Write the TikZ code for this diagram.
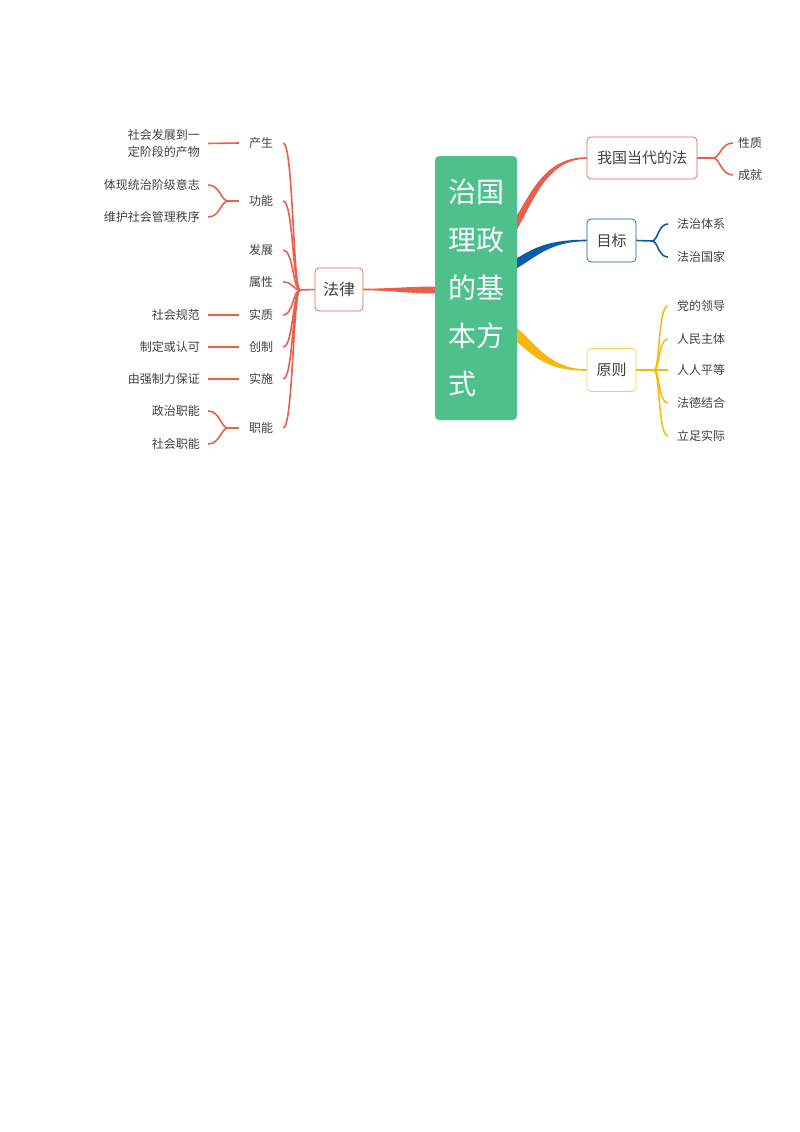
\documentclass[tikz,border=0pt]{standalone}
\usepackage{fontspec}
\setmainfont{Noto Sans CJK SC}
\usetikzlibrary{calc}
\definecolor{lawred}{HTML}{E8604C}
\definecolor{goalblue}{HTML}{0B5CA8}
\definecolor{ruleyel}{HTML}{F6B70F}
\definecolor{rootgreen}{HTML}{4EC08B}
\definecolor{txtgray}{HTML}{404040}
\newcommand\taperlink[6]{% colour, start, end, control 1, control 2, half width
  \fill[#1] ($(#2)+(0,-#6)$) .. controls ($(#4)+(0,-#6)$) and ($(#5)+(0,-0.8)$) .. ($(#3)+(0,-0.8)$)
    -- ($(#3)+(0,0.8)$) .. controls ($(#5)+(0,0.8)$) and ($(#4)+(0,#6)$) .. ($(#2)+(0,#6)$) -- cycle;}
\begin{document}
\begin{tikzpicture}[x=1pt,y=-1pt,
  txt/.style={font=\fontsize{12}{17}\selectfont, text=txtgray, inner ysep=0pt},
  childL/.style={txt, inner xsep=10pt},
  leafL/.style={txt, inner xsep=8pt, anchor=east, align=left},
  childR/.style={txt, anchor=west},
  topicbox/.style={draw=#1, rounded corners=4pt, fill=white, line width=0.7pt, inner sep=0pt,
    font=\fontsize{15}{18}\selectfont, text=txtgray, minimum height=43pt},
  root/.style={fill=rootgreen, rounded corners=4pt, minimum width=82pt, minimum height=264pt,
    text=white, font=\fontsize{28}{48}\selectfont, align=left, inner sep=0pt, text width=56pt},
  redline/.style={draw=lawred, line width=1.6pt},
  blueline/.style={draw=goalblue, line width=1.6pt},
  yelline/.style={draw=ruleyel, line width=1.5pt}]
\useasboundingbox (0,0) rectangle (800,1132);

% central topic
\node[root] (root) at (476,288) {治国\\理政\\的基\\本方\\式};

% main topics
\node[topicbox=lawred, minimum width=48pt, font=\fontsize{16}{18}\selectfont] (law) at (339,289.5) {法律};
\node[topicbox=lawred, minimum width=110pt, minimum height=42pt] (ours) at (642,158) {我国当代的法};
\node[topicbox=goalblue, minimum width=49pt] (goal) at (611.5,240.5) {目标};
\node[topicbox=ruleyel!70, minimum width=49pt] (rule) at (611.5,370) {原则};

% tapered main connectors
\coordinate (sL) at ([yshift=-2pt]root.west);
\coordinate (sR) at ([yshift=66pt]root.east);
\coordinate (sB) at ([yshift=25pt]root.east);
\coordinate (sY) at ([yshift=-47pt]root.east);
\coordinate (cL1) at ($(sL)+(-25,0)$);
\coordinate (cL2) at ($(law.east)+(25,0)$);
\coordinate (cR1) at ($(sR)+(15,-25)$);
\coordinate (cR2) at ($(ours.west)+(-40,0)$);
\coordinate (cB1) at ($(sB)+(20,-12)$);
\coordinate (cB2) at ($(goal.west)+(-35,0)$);
\coordinate (cY1) at ($(sY)+(20,18)$);
\coordinate (cY2) at ($(rule.west)+(-35,0)$);
\taperlink{lawred}{sL}{law.east}{cL1}{cL2}{3.5}
\taperlink{lawred}{sR}{ours.west}{cR1}{cR2}{7}
\taperlink{goalblue}{sB}{goal.west}{cB1}{cB2}{5}
\taperlink{ruleyel}{sY}{rule.west}{cY1}{cY2}{7}

% ---- left: 法律 ----
\coordinate (trunk) at (300,290);
\draw[redline] (trunk) -- (law.west);
\node[childL] (c1) at (261,143) {产生};
\node[childL] (c2) at (261,201) {功能};
\node[childL] (c3) at (261,250) {发展};
\node[childL] (c4) at (261,282) {属性};
\node[childL] (c5) at (261,315) {实质};
\node[childL] (c6) at (261,347) {创制};
\node[childL] (c7) at (261,379) {实施};
\node[childL] (c8) at (261,428) {职能};
\foreach \c in {c1,c2,c3,c4,c5,c6,c7,c8}
  \draw[redline] (\c.east) .. controls +(10,0) and +(-7,0) .. (trunk);

\node[leafL] (l1) at (208,143.5) {社会发展到一\\定阶段的产物};
\node[leafL] (l2a) at (208,185) {体现统治阶级意志};
\node[leafL] (l2b) at (208,217) {维护社会管理秩序};
\node[leafL] (l5) at (208,315) {社会规范};
\node[leafL] (l6) at (208,347) {制定或认可};
\node[leafL] (l7) at (208,379) {由强制力保证};
\node[leafL] (l8a) at (208,411) {政治职能};
\node[leafL] (l8b) at (208,444) {社会职能};
\draw[redline] (l1.east) -- (c1.west);
\draw[redline] (l5.east) -- (c5.west);
\draw[redline] (l6.east) -- (c6.west);
\draw[redline] (l7.east) -- (c7.west);
\coordinate (j2) at (228,201);
\coordinate (j8) at (228,428);
\draw[redline] (c2.west) -- (j2);
\draw[redline] (c8.west) -- (j8);
\foreach \l/\j in {l2a/j2,l2b/j2,l8a/j8,l8b/j8}
  \draw[redline] (\j) .. controls +(-7,0) and +(12,0) .. (\l.east);

% ---- right: 我国当代的法 ----
\coordinate (jo) at (713,158);
\node[childR, inner xsep=5pt] (o1) at (733,143) {性质};
\node[childR, inner xsep=5pt] (o2) at (733,175) {成就};
\draw[redline] (ours.east) -- (jo);
\foreach \n in {o1,o2}
  \draw[redline] (jo) .. controls +(7,0) and +(-12,0) .. (\n.west);

% ---- right: 目标 ----
\coordinate (jg) at (652,241);
\node[childR, inner xsep=9pt] (g1) at (668,224) {法治体系};
\node[childR, inner xsep=9pt] (g2) at (668,257) {法治国家};
\draw[blueline] (goal.east) -- (jg);
\foreach \n in {g1,g2}
  \draw[blueline] (jg) .. controls +(6,0) and +(-10,0) .. (\n.west);

% ---- right: 原则 ----
\coordinate (jr) at (654,370);
\node[childR, inner xsep=9pt] (r1) at (668,306) {党的领导};
\node[childR, inner xsep=9pt] (r2) at (668,339) {人民主体};
\node[childR, inner xsep=9pt] (r3) at (668,370) {人人平等};
\node[childR, inner xsep=9pt] (r4) at (668,403) {法德结合};
\node[childR, inner xsep=9pt] (r5) at (668,436) {立足实际};
\draw[yelline] (rule.east) -- (jr);
\foreach \n in {r1,r2,r3,r4,r5}
  \draw[yelline] (jr) .. controls +(6,0) and +(-10,0) .. (\n.west);
\end{tikzpicture}
\end{document}
